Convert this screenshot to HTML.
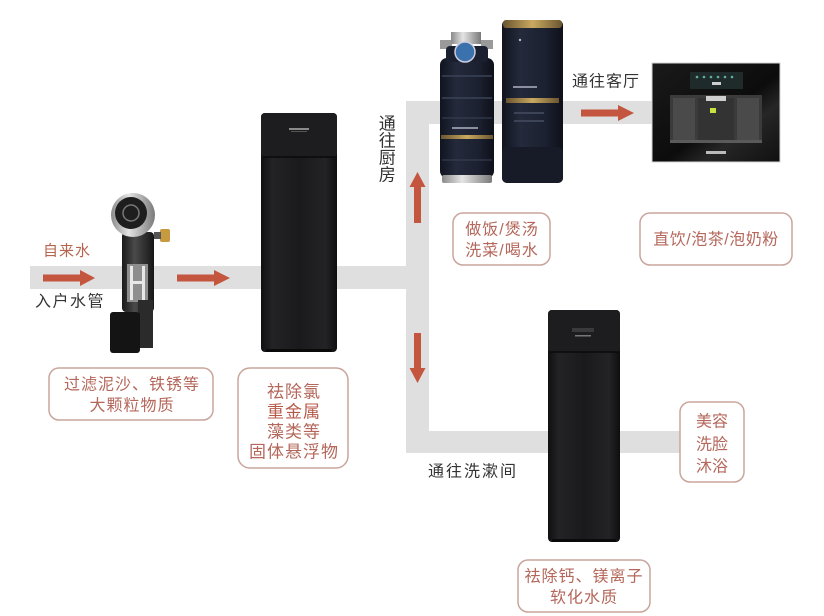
<!DOCTYPE html>
<html>
<head>
<meta charset="utf-8">
<style>
html,body{margin:0;padding:0;background:#fff;}
body{width:824px;height:616px;overflow:hidden;}
svg{display:block;}
text{font-family:"Liberation Sans","Noto Sans CJK SC",sans-serif;}
.lbl{fill:#b4675a;font-size:16px;letter-spacing:1px;}
.dk{fill:#333;font-size:16px;letter-spacing:1.5px;}
.box{fill:#fff;stroke:#c9a59c;stroke-width:1.5;}
</style>
</head>
<body>
<svg width="824" height="616" viewBox="0 0 824 616" xmlns="http://www.w3.org/2000/svg">
<defs>
  <linearGradient id="unit" x1="0" x2="1" y1="0" y2="0">
    <stop offset="0" stop-color="#101012"/>
    <stop offset="0.15" stop-color="#232326"/>
    <stop offset="0.5" stop-color="#1a1a1c"/>
    <stop offset="0.85" stop-color="#232326"/>
    <stop offset="1" stop-color="#0e0e10"/>
  </linearGradient>
  <linearGradient id="navy" x1="0" x2="1" y1="0" y2="0">
    <stop offset="0" stop-color="#10141f"/>
    <stop offset="0.3" stop-color="#242a3b"/>
    <stop offset="0.7" stop-color="#1c2131"/>
    <stop offset="1" stop-color="#0e111a"/>
  </linearGradient>
  <linearGradient id="silver" x1="0" x2="1" y1="0" y2="0">
    <stop offset="0" stop-color="#8a8a8a"/>
    <stop offset="0.4" stop-color="#e4e4e4"/>
    <stop offset="1" stop-color="#7a7a7a"/>
  </linearGradient>
  <linearGradient id="gold" x1="0" x2="1" y1="0" y2="0">
    <stop offset="0" stop-color="#6b5530"/>
    <stop offset="0.5" stop-color="#c9a960"/>
    <stop offset="1" stop-color="#6b5530"/>
  </linearGradient>
  <linearGradient id="disp" x1="0" x2="1" y1="0" y2="1">
    <stop offset="0" stop-color="#1a1a1a"/>
    <stop offset="0.55" stop-color="#0c0c0c"/>
    <stop offset="0.7" stop-color="#262626"/>
    <stop offset="1" stop-color="#101010"/>
  </linearGradient>
  <linearGradient id="fbody" x1="0" x2="1" y1="0" y2="0">
    <stop offset="0" stop-color="#1a1a1a"/>
    <stop offset="0.4" stop-color="#4a4a4a"/>
    <stop offset="1" stop-color="#161616"/>
  </linearGradient>
</defs>

<!-- pipes -->
<g fill="#dfdfdf">
  <rect x="30" y="266" width="399" height="23"/>
  <rect x="406" y="101" width="23" height="352"/>
  <rect x="406" y="101" width="246" height="23"/>
  <rect x="406" y="431" width="274" height="22"/>
</g>

<!-- arrows -->
<g fill="#c4553e">
  <rect x="43" y="274.5" width="38" height="7"/>
  <polygon points="80,270 95,278 80,286"/>
  <rect x="177" y="274.5" width="38" height="7"/>
  <polygon points="214,270 230,278 214,286"/>
  <rect x="581" y="109.5" width="38" height="7"/>
  <polygon points="618,105 634,113 618,121"/>
  <!-- up -->
  <rect x="414" y="186" width="7" height="37"/>
  <polygon points="409.5,187 417.5,172 425.5,187"/>
  <!-- down -->
  <rect x="414" y="333" width="7" height="37"/>
  <polygon points="409.5,368 417.5,383 425.5,368"/>
</g>

<!-- inlet filter device -->
<g>
  <rect x="122" y="232" width="32" height="80" rx="4" fill="url(#fbody)"/>
  <rect x="127" y="264" width="21" height="38" fill="#8e8e8e"/>
  <rect x="130" y="266" width="3" height="34" fill="#e8e8e8"/>
  <rect x="142" y="266" width="3" height="34" fill="#e8e8e8"/>
  <rect x="130" y="281" width="15" height="3" fill="#e8e8e8"/>
  <rect x="138" y="300" width="15" height="48" fill="#2b2b2b"/>
  <rect x="160" y="229" width="10" height="13" rx="2" fill="#c89a40"/>
  <rect x="154" y="232" width="7" height="7" fill="#555"/>
  <circle cx="133" cy="215" r="22" fill="url(#silver)"/>
  <circle cx="131" cy="213" r="16" fill="#1e1e1e"/>
  <circle cx="131" cy="213" r="8" fill="none" stroke="#777" stroke-width="1.5"/>
  <rect x="110" y="312" width="30" height="41" rx="3" fill="#141414"/>
</g>

<!-- central unit -->
<g>
  <rect x="261" y="113" width="76" height="239" rx="4" fill="url(#unit)"/>
  <rect x="261" y="113" width="76" height="44" rx="4" fill="#1d1d20"/>
  <line x1="263" y1="157" x2="335" y2="157" stroke="#0a0a0a" stroke-width="1.5"/>
  <rect x="289" y="128" width="20" height="2" fill="#8a8a8a"/>
  <rect x="291" y="131" width="16" height="1" fill="#555"/>
  <rect x="266" y="349" width="66" height="3" fill="#0a0a0a"/>
</g>

<!-- kitchen small filter -->
<g>
  <rect x="440" y="40" width="12" height="9" fill="#9a9a9a"/>
  <rect x="481" y="40" width="12" height="9" fill="#9a9a9a"/>
  <rect x="451" y="32" width="30" height="12" fill="url(#silver)"/>
  <rect x="440" y="58" width="54" height="120" rx="7" fill="url(#navy)"/>
  <rect x="446" y="46" width="42" height="16" rx="4" fill="#1a2030"/>
  <circle cx="465" cy="52" r="10" fill="#3b72ad" stroke="#ccd" stroke-width="1.5"/>
  <line x1="442" y1="76" x2="492" y2="76" stroke="#3a4256" stroke-width="1.5"/>
  <line x1="442" y1="98" x2="492" y2="98" stroke="#3a4256" stroke-width="1.5"/>
  <line x1="442" y1="118" x2="492" y2="118" stroke="#3a4256" stroke-width="1"/>
  <rect x="452" y="127" width="26" height="2" fill="#8b8fa0"/>
  <rect x="441" y="135" width="52" height="4" fill="url(#gold)"/>
  <line x1="442" y1="160" x2="492" y2="160" stroke="#3a4256" stroke-width="1"/>
  <rect x="442" y="175" width="50" height="8" rx="2" fill="url(#silver)"/>
</g>

<!-- kitchen tall cylinder -->
<g>
  <rect x="502" y="20" width="61" height="163" rx="5" fill="url(#navy)"/>
  <rect x="503" y="20" width="59" height="8" rx="3" fill="url(#gold)"/>
  <rect x="513" y="86" width="24" height="2" fill="#8b8fa0"/>
  <rect x="506" y="98" width="53" height="5" fill="url(#gold)"/>
  <rect x="514" y="112" width="30" height="2" fill="#3e4458"/>
  <rect x="514" y="120" width="30" height="2" fill="#3e4458"/>
  <rect x="502" y="147" width="61" height="36" rx="5" fill="#171b28"/>
  <circle cx="520" cy="40" r="1.2" fill="#bbb"/>
</g>

<!-- dispenser -->
<g>
  <rect x="652" y="63" width="128" height="99" fill="url(#disp)" stroke="#d5d5d5" stroke-width="1"/>
  <rect x="690" y="72" width="53" height="17" fill="#1f2a2a"/>
  <g fill="#5fb0a0">
    <circle cx="697" cy="77" r="1.3"/><circle cx="704" cy="77" r="1.3"/><circle cx="711" cy="77" r="1.3"/>
    <circle cx="718" cy="77" r="1.3"/><circle cx="725" cy="77" r="1.3"/><circle cx="732" cy="77" r="1.3"/>
  </g>
  <rect x="712" y="82" width="9" height="3" fill="#cfcfcf"/>
  <rect x="670" y="95" width="92" height="48" fill="#3b3b3b"/>
  <rect x="673" y="98" width="22" height="42" fill="#4a4a4a"/>
  <rect x="737" y="98" width="22" height="42" fill="#4a4a4a"/>
  <rect x="698" y="98" width="36" height="42" fill="#333"/>
  <rect x="706" y="96" width="20" height="5" fill="#cfcfcf"/>
  <rect x="710" y="108" width="6" height="5" fill="#c9e23e"/>
  <rect x="670" y="140" width="92" height="3" fill="#5a5a5a"/>
  <rect x="706" y="151" width="20" height="3" fill="#bbb"/>
</g>

<!-- bottom softener unit -->
<g>
  <rect x="548" y="310" width="72" height="232" rx="4" fill="url(#unit)"/>
  <rect x="548" y="310" width="72" height="42" rx="4" fill="#1d1d20"/>
  <line x1="550" y1="352" x2="618" y2="352" stroke="#0a0a0a" stroke-width="1.5"/>
  <rect x="572" y="328" width="22" height="4" fill="#3a3a3a"/>
  <rect x="575" y="335" width="16" height="1.5" fill="#777"/>
  <rect x="552" y="539" width="64" height="3" fill="#0a0a0a"/>
</g>

<!-- plain labels -->
<text x="43" y="251" class="lbl" dominant-baseline="central" style="fill:#b5654e;font-size:15px;letter-spacing:1px">自来水</text>
<text x="35" y="302" class="dk" dominant-baseline="central">入户水管</text>
<g class="dk" style="font-size:17px" text-anchor="middle">
  <text x="388" y="124" dominant-baseline="central">通</text>
  <text x="388" y="141" dominant-baseline="central">往</text>
  <text x="388" y="158" dominant-baseline="central">厨</text>
  <text x="388" y="175" dominant-baseline="central">房</text>
</g>
<text x="572" y="82" class="dk" dominant-baseline="central" style="letter-spacing:1px">通往客厅</text>
<text x="428" y="472" class="dk" dominant-baseline="central" style="letter-spacing:2px">通往洗漱间</text>

<!-- boxes -->
<rect x="49" y="368" width="164" height="52" rx="10" class="box"/>
<g class="lbl" text-anchor="middle">
  <text x="132" y="385" dominant-baseline="central">过滤泥沙、铁锈等</text>
  <text x="132" y="406" dominant-baseline="central">大颗粒物质</text>
</g>

<rect x="238" y="368" width="110" height="100" rx="12" class="box"/>
<g class="lbl" text-anchor="middle" style="font-size:17px">
  <text x="294" y="392" dominant-baseline="central">祛除氯</text>
  <text x="294" y="412" dominant-baseline="central" style="fill:#b85a4a">重金属</text>
  <text x="294" y="432" dominant-baseline="central">藻类等</text>
  <text x="294" y="452" dominant-baseline="central">固体悬浮物</text>
</g>

<rect x="453" y="213" width="97" height="52" rx="10" class="box"/>
<g class="lbl" text-anchor="middle">
  <text x="502" y="230" dominant-baseline="central">做饭/煲汤</text>
  <text x="502" y="251" dominant-baseline="central">洗菜/喝水</text>
</g>

<rect x="640" y="213" width="152" height="52" rx="10" class="box"/>
<text x="716" y="240" class="lbl" text-anchor="middle" dominant-baseline="central" style="letter-spacing:0.5px">直饮/泡茶/泡奶粉</text>

<rect x="518" y="560" width="132" height="52" rx="10" class="box"/>
<g class="lbl" text-anchor="middle">
  <text x="584" y="577" dominant-baseline="central">祛除钙、镁离子</text>
  <text x="584" y="598" dominant-baseline="central">软化水质</text>
</g>

<rect x="680" y="402" width="64" height="80" rx="10" class="box"/>
<g class="lbl" text-anchor="middle" style="letter-spacing:0">
  <text x="712" y="422" dominant-baseline="central">美容</text>
  <text x="712" y="445" dominant-baseline="central">洗脸</text>
  <text x="712" y="467" dominant-baseline="central">沐浴</text>
</g>
</svg>
</body>
</html>
